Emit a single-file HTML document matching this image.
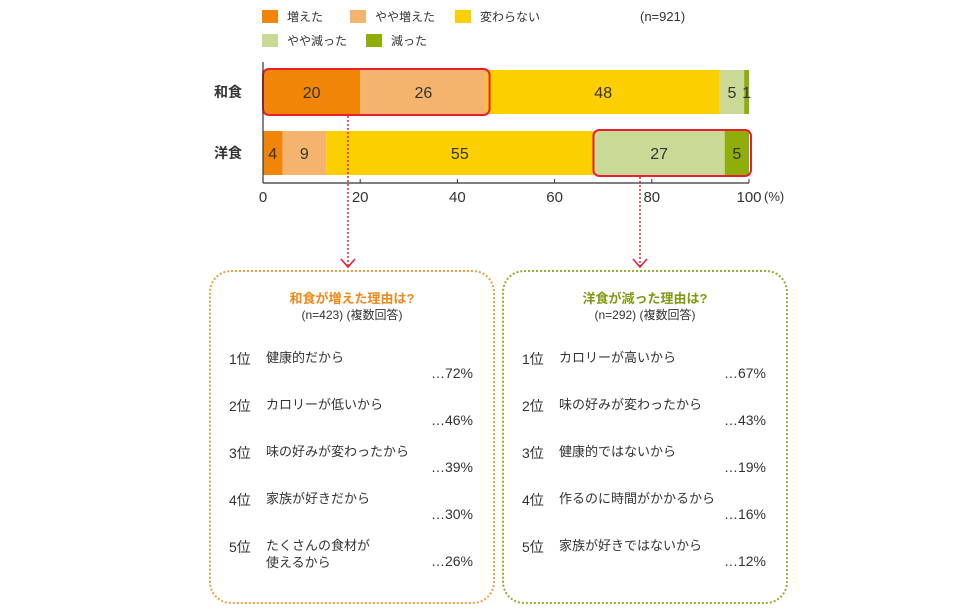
<!DOCTYPE html>
<html><head><meta charset="utf-8">
<style>
body{margin:0;background:#fff;}
#root{position:relative;width:960px;height:612px;overflow:hidden;font-family:"Liberation Sans","Noto Sans CJK JP",sans-serif;color:#333;}
.abs{position:absolute;white-space:nowrap;}
.panel{position:absolute;top:270px;height:334px;border-radius:22px;box-sizing:border-box;}
</style></head><body>
<div id="root">
<svg id="chart" width="960" height="270" style="position:absolute;left:0;top:0"></svg>

<div class="panel" style="left:209px;width:286px;border:2px dotted #f0a040;"></div>
<div class="panel" style="left:502px;width:286px;border:2px dotted #9aab30;"></div>
<div id="lists"></div>
</div>
<script>
const categories=["和食","洋食"];
const seriesNames=["増えた","やや増えた","変わらない","やや減った","減った"];
const seriesColors=["#f08508","#f5b46e","#fccf00","#c9d996","#8fae0c"];
const washoku=[20,26,48,5,1];
const yoshoku=[4,9,55,27,5];
const ticks=[0,20,40,60,80,100];
const values=[washoku,yoshoku];
const NS="http://www.w3.org/2000/svg";
const svg=document.getElementById('chart');
const x0=263,x1=749;
const xs=v=>x0+(x1-x0)*v/100;
const rowY=[70,131],barH=44;
function mk(t,a){const e=document.createElementNS(NS,t);for(const k in a)e.setAttribute(k,a[k]);svg.appendChild(e);return e;}
// legend
const legPos=[[262,10],[350,10],[455,10],[262,34],[366,34]];
seriesNames.forEach((n,i)=>{
 const r=mk('rect',{x:legPos[i][0],y:legPos[i][1],width:16,height:13,fill:seriesColors[i]});
 
 
 const t=mk('text',{x:legPos[i][0]+25,y:legPos[i][1]+11,'font-size':12,fill:'#333'});t.textContent=n;
 
 
});
const nt=mk('text',{x:640,y:21,'font-size':13,fill:'#333'});nt.textContent="(n=921)";


// bars
values.forEach((vals,r)=>{
 let acc=0;
 const cl=mk('text',{x:228,y:rowY[r]+barH/2+5,'font-size':14,'text-anchor':'middle','font-weight':'bold',fill:'#333'});cl.textContent=categories[r];
 
 
 vals.forEach((v,i)=>{
  const a=xs(acc),b=xs(acc+v);acc+=v;
  const rc=mk('rect',{x:a,y:rowY[r],width:b-a,height:barH,fill:seriesColors[i]});
  
  
  const t=mk('text',{x:(a+b)/2,y:rowY[r]+barH/2+6,'font-size':16,'text-anchor':'middle',fill:'#333'});t.textContent=v;
  
  
 });
});
// highlight boxes
const hb1=mk('rect',{x:xs(0),y:rowY[0]-1,width:xs(washoku[0]+washoku[1])-xs(0)+3,height:barH+2,rx:6,fill:'none',stroke:'#e8202e','stroke-width':2});


const st=100-yoshoku[3]-yoshoku[4];
const hb2=mk('rect',{x:xs(st),y:rowY[1]-1,width:xs(100)-xs(st)+2,height:barH+2,rx:6,fill:'none',stroke:'#e8202e','stroke-width':2});


// axes
const ax=mk('line',{x1:x0,y1:62,x2:x0,y2:183,stroke:'#333','stroke-width':1.2});

const bx=mk('line',{x1:x0,y1:183,x2:x1,y2:183,stroke:'#333','stroke-width':1.2});

ticks.forEach(t=>{
 const tk=mk('line',{x1:xs(t),y1:179,x2:xs(t),y2:183,stroke:'#333'});
 
 const tl=mk('text',{x:xs(t),y:202,'font-size':15,'text-anchor':'middle',fill:'#333'});tl.textContent=t;
 
});
const pu=mk('text',{x:764,y:201,'font-size':13,fill:'#333'});pu.textContent="(%)";

// arrows
[[348,116],[640,177]].forEach((p,i)=>{
 const l=mk('line',{x1:p[0],y1:p[1],x2:p[0],y2:267,stroke:'#e8202e','stroke-width':1.5,'stroke-dasharray':'2 2'});
 
 const h=mk('polyline',{points:`${p[0]-7},259 ${p[0]},267 ${p[0]+7},259`,fill:'none',stroke:'#e8202e','stroke-width':1.6});
 
});
// lists
const leftItems=["健康的だから","カロリーが低いから","味の好みが変わったから","家族が好きだから","たくさんの食材が<br>使えるから"];
const leftPct=[72,46,39,30,26];
const rightItems=["カロリーが高いから","味の好みが変わったから","健康的ではないから","作るのに時間がかかるから","家族が好きではないから"];
const rightPct=[67,43,19,16,12];
const root=document.getElementById('root');
function add(html,style,name){const d=document.createElement('div');d.className='abs';d.style.cssText=style;d.innerHTML=html;
 
 
 root.appendChild(d);return d;}
add('和食が増えた理由は?','left:209px;width:286px;text-align:center;top:288px;font-size:13px;font-weight:bold;color:#ef8a1a;','washoku-panel-title');
add('(n=423) (複数回答)','left:209px;width:286px;text-align:center;top:306px;font-size:12px;','washoku-panel-subtitle');
add('洋食が減った理由は?','left:502px;width:286px;text-align:center;top:288px;font-size:13px;font-weight:bold;color:#7f9a12;','yoshoku-panel-title');
add('(n=292) (複数回答)','left:502px;width:286px;text-align:center;top:306px;font-size:12px;','yoshoku-panel-subtitle');
[[leftItems,leftPct,0],[rightItems,rightPct,293]].forEach(([items,pcts,dx])=>{
 items.forEach((it,i)=>{
  const y=349+i*47;
  add((i+1)+'位','left:'+(229+dx)+'px;top:'+y+'px;font-size:14px;','rank-label');
  add(it,'left:'+(266+dx)+'px;top:'+y+'px;font-size:13px;line-height:17px;','reason-text');
  add('…'+pcts[i]+'%','left:'+(393+dx)+'px;width:80px;text-align:right;top:'+(y+16)+'px;font-size:14px;','reason-percent');
 });
});
</script>
</body></html>
